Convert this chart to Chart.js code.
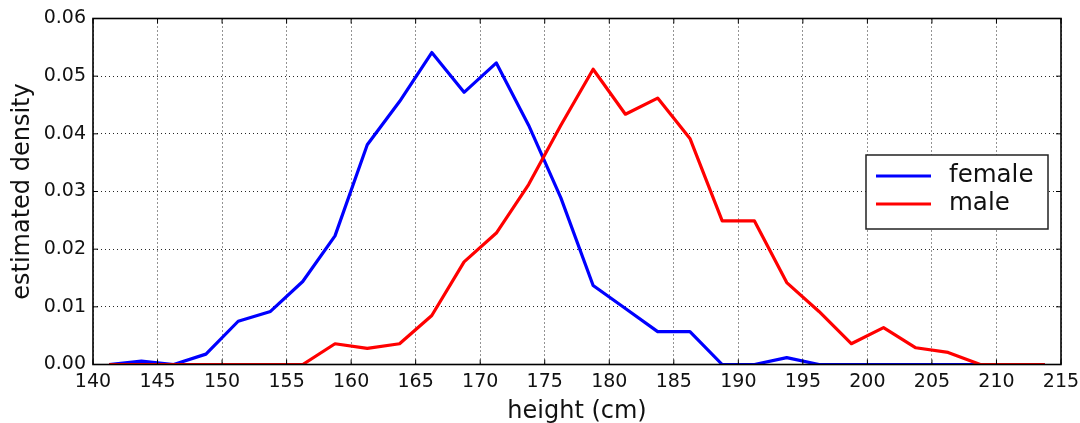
<!DOCTYPE html>
<html lang="en">
<head>
  <meta charset="UTF-8" />
  <title>Estimated height density</title>
  <script src="https://cdn.jsdelivr.net/npm/chart.js"></script>
  <style>
    * { box-sizing: border-box; }
    html, body { margin: 0; padding: 0; background: #fff; }
    .chart-box { position: relative; width: 1080px; height: 423px; }
  </style>
</head>
<body>
  <div class="chart-box"><canvas id="heightChart"></canvas></div>

  <script>
    // bin centres (cm), 2.5 cm bins from 140 to 215
    const heights = [141.25, 143.75, 146.25, 148.75, 151.25, 153.75, 156.25, 158.75, 161.25, 163.75,
                     166.25, 168.75, 171.25, 173.75, 176.25, 178.75, 181.25, 183.75, 186.25, 188.75,
                     191.25, 193.75, 196.25, 198.75, 201.25, 203.75, 206.25, 208.75, 211.25, 213.75];

    const female = [0, 0.0006, 0, 0.0018, 0.0075, 0.0092, 0.0144, 0.0223, 0.0381, 0.0456,
                    0.0541, 0.0472, 0.0523, 0.0415, 0.0289, 0.0137, 0.0097, 0.0057, 0.0057, 0,
                    0, 0.0012, 0, 0, 0, 0, 0, 0, 0, 0];

    const male = [0, 0, 0, 0, 0, 0, 0, 0.0036, 0.0028, 0.0036,
                  0.0085, 0.0178, 0.0228, 0.0312, 0.0415, 0.0512, 0.0434, 0.0462, 0.0392, 0.0249,
                  0.0249, 0.0142, 0.0092, 0.0036, 0.0064, 0.0029, 0.0021, 0, 0, 0];

    const seriesNames = ['female', 'male'];
    const xTitle = 'height (cm)';
    const yTitle = 'estimated density';

    const FONT = "'DejaVu Sans', 'Liberation Sans', sans-serif";
    const INK = '#111';

    const toPoints = ys => ys.map((y, i) => ({ x: heights[i], y: y }));

    // matplotlib-style box round the plot with inward ticks on every side
    const frame = {
      id: 'frame',
      afterDatasetsDraw(chart) {
        const { ctx, chartArea: a, scales } = chart;
        ctx.save();
        ctx.strokeStyle = '#000';
        ctx.lineWidth = 1;
        ctx.beginPath();
        scales.x.ticks.forEach(t => {
          const px = scales.x.getPixelForValue(t.value);
          ctx.moveTo(px, a.bottom); ctx.lineTo(px, a.bottom - 5);
          ctx.moveTo(px, a.top); ctx.lineTo(px, a.top + 5);
        });
        scales.y.ticks.forEach(t => {
          const py = scales.y.getPixelForValue(t.value);
          ctx.moveTo(a.left, py); ctx.lineTo(a.left + 5, py);
          ctx.moveTo(a.right, py); ctx.lineTo(a.right - 5, py);
        });
        ctx.stroke();
        ctx.lineWidth = 1.6;
        ctx.strokeRect(a.left, a.top, a.right - a.left, a.bottom - a.top);
        ctx.restore();
      }
    };

    // legend box inside the plot, right side
    const boxLegend = {
      id: 'boxLegend',
      afterDraw(chart, args, opts) {
        const { ctx } = chart;
        ctx.save();
        ctx.fillStyle = '#fff';
        ctx.fillRect(opts.x, opts.y, opts.w, opts.h);
        ctx.strokeStyle = '#222';
        ctx.lineWidth = 1.5;
        ctx.strokeRect(opts.x, opts.y, opts.w, opts.h);
        ctx.font = '24.5px ' + FONT;
        ctx.textBaseline = 'middle';
        chart.data.datasets.forEach((ds, i) => {
          const cy = opts.y + 21 + i * 28;
          ctx.strokeStyle = ds.borderColor;
          ctx.lineWidth = 3;
          ctx.beginPath();
          ctx.moveTo(opts.x + 10, cy);
          ctx.lineTo(opts.x + 65, cy);
          ctx.stroke();
          ctx.fillStyle = INK;
          ctx.fillText(ds.label, opts.x + 83, cy);
        });
        ctx.restore();
      }
    };

    new Chart(document.getElementById('heightChart'), {
      type: 'line',
      data: {
        datasets: [
          { label: seriesNames[0], data: toPoints(female), borderColor: '#0000ff', order: 1 },
          { label: seriesNames[1], data: toPoints(male), borderColor: '#ff0000', order: 0 }
        ]
      },
      options: {
        responsive: true,
        maintainAspectRatio: false,
        animation: false,
        layout: { padding: { top: 18.5, right: 19, left: 0, bottom: 0 } },
        elements: {
          line: { borderWidth: 3.2, tension: 0, borderJoinStyle: 'round', fill: false },
          point: { radius: 0, hoverRadius: 0 }
        },
        plugins: {
          legend: { display: false },
          tooltip: { enabled: false },
          boxLegend: { x: 866, y: 155, w: 182, h: 74 }
        },
        scales: {
          x: {
            type: 'linear',
            min: 140,
            max: 215,
            afterFit: s => { s.height = 58.5; s.paddingLeft = 0; s.paddingRight = 0; },
            ticks: { stepSize: 5, maxRotation: 0, autoSkip: false, padding: 6,
                     color: INK, font: { family: FONT, size: 19 } },
            grid: { color: 'rgba(0,0,0,0.85)', lineWidth: 1, drawTicks: false },
            border: { display: false, dash: [1, 3] },
            title: { display: true, text: xTitle, color: INK, padding: { top: 0, bottom: -3 },
                     font: { family: FONT, size: 24 } }
          },
          y: {
            min: 0,
            max: 0.06,
            afterFit: s => { s.width = 93; s.paddingTop = 0; s.paddingBottom = 0; },
            ticks: { stepSize: 0.01, padding: 7, color: INK,
                     font: { family: FONT, size: 19 },
                     callback: v => v.toFixed(2) },
            grid: { color: 'rgba(0,0,0,0.85)', lineWidth: 1, drawTicks: false },
            border: { display: false, dash: [1, 3] },
            title: { display: true, text: yTitle, color: INK, padding: { top: 8, bottom: 0 },
                     font: { family: FONT, size: 24 } }
          }
        }
      },
      plugins: [frame, boxLegend]
    });
  </script>
</body>
</html>
